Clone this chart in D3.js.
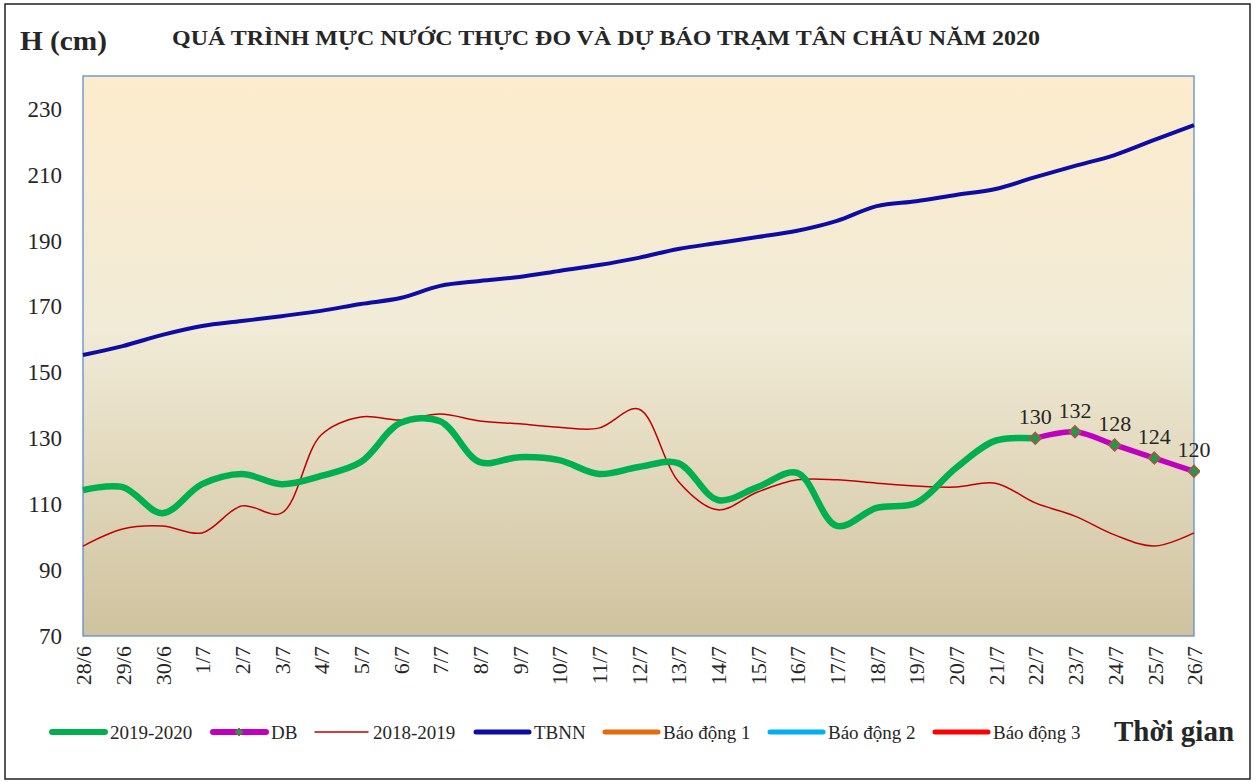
<!DOCTYPE html>
<head>
    <meta charset="utf-8">
    <title>Tan Chau</title>
    <script src="https://d3js.org/d3.v7.min.js"></script>
    <style>
        body { margin: 0; background: #fff; }
        svg text { font-family: "Liberation Serif", "Times New Roman", serif !important; fill: #262626; }
    </style>
</head>
<body>
    <div id="container"></div>
    <script>
        //------------------------DATA------------------------//
        var days = ["28/6", "29/6", "30/6", "1/7", "2/7", "3/7", "4/7", "5/7", "6/7", "7/7", "8/7", "9/7", "10/7", "11/7", "12/7",
            "13/7", "14/7", "15/7", "16/7", "17/7", "18/7", "19/7", "20/7", "21/7", "22/7", "23/7", "24/7", "25/7", "26/7"]
        var yTicks = [70, 90, 110, 130, 150, 170, 190, 210, 230]

        var h2020 = [114.3, 115.2, 107.3, 116.1, 119.2, 116.1, 118.6, 122.8, 134.7, 135.2, 122.8, 124.3, 123.4, 119.2, 121.3,
            122.5, 111.3, 115.2, 119.5, 103.4, 108.9, 110.4, 121, 129.3, 130]
        var dbDays = ["22/7", "23/7", "24/7", "25/7", "26/7"]
        var dbValues = [130, 132, 128, 124, 120]
        var h2019 = [97.3, 102.5, 103.4, 101.3, 109.5, 107.3, 131, 136.5, 135.6, 137.4, 135.3, 134.4, 133.4, 133.1, 138.9,
            117, 108.3, 113.7, 117.4, 117.4, 116.4, 115.5, 115.2, 116.4, 110.4, 106.4, 100.7, 97.3, 101.3]
        var tbnn = [155.3, 158, 161.4, 164.1, 165.6, 167.1, 168.7, 170.8, 172.6, 176.3, 177.8, 179, 180.8, 182.6, 184.8,
            187.5, 189.3, 191.1, 193, 196, 200.5, 202, 203.9, 205.7, 209.3, 212.7, 216, 220.6, 225.1]
        var alarms = [350, 400, 450]

        //------------------------SVG------------------------//
        var W = 1259, H = 782
        var margin = { top: 76, right: 65, bottom: 146, left: 83 }
        var width = 1194 - margin.left, height = 636 - margin.top
        var serif = "'Liberation Serif', 'Times New Roman', serif"

        var svg = d3.select("#container").append("svg").attr("width", W).attr("height", H)

        // outer frame
        svg.append("rect").attr("x", 5).attr("y", 4).attr("width", 1245).attr("height", 775)
            .attr("fill", "none").attr("stroke", "#222").attr("stroke-width", 1.5)

        var defs = svg.append("defs")
        var grad = defs.append("linearGradient").attr("id", "bg").attr("x1", 0).attr("y1", 0).attr("x2", 0).attr("y2", 1)
        grad.append("stop").attr("offset", "0%").attr("stop-color", "#fdeccd")
        grad.append("stop").attr("offset", "45%").attr("stop-color", "#f1ebd7")
        grad.append("stop").attr("offset", "100%").attr("stop-color", "#cfc29e")
        defs.append("clipPath").attr("id", "clip").append("rect")
            .attr("x", -6).attr("y", -6).attr("width", width + 12).attr("height", height + 12)

        var g = svg.append("g").attr("transform", "translate(" + margin.left + "," + margin.top + ")")

        var xScale = d3.scalePoint().domain(days).range([0, width])
        var yScale = d3.scaleLinear().domain([70, 240]).range([height, 0])

        g.append("rect").attr("width", width).attr("height", height).attr("fill", "url(#bg)")

        //------------------------AXES------------------------//
        var yaxis = g.append("g")
            .call(d3.axisLeft(yScale).tickValues(yTicks).tickSize(0).tickPadding(21))
        yaxis.attr("font-family", serif)
        yaxis.select(".domain").remove()
        yaxis.selectAll("text").attr("font-size", 23).attr("fill", "#262626")

        var xaxis = g.append("g").attr("transform", "translate(0," + height + ")")
            .call(d3.axisBottom(xScale).tickSize(0))
        xaxis.attr("font-family", serif)
        xaxis.select(".domain").remove()
        xaxis.selectAll("text")
            .attr("font-size", 22).attr("fill", "#262626")
            .attr("transform", "rotate(-90)")
            .attr("x", -10).attr("y", 0).attr("dy", "0.35em")
            .style("text-anchor", "end")

        // plot border
        g.append("rect").attr("width", width).attr("height", height)
            .attr("fill", "none").attr("stroke", "#5b8fd0").attr("stroke-width", 1.3)

        //------------------------LINES------------------------//
        var plot = g.append("g").attr("clip-path", "url(#clip)")
        var line = d3.line().x(d => xScale(d[0])).y(d => yScale(d[1])).curve(d3.curveCatmullRom.alpha(0.5))

        var alarmColors = ["#e46c0a", "#00b0f0", "#ff0000"]
        alarms.forEach(function (a, i) {
            plot.append("path").datum(days.map(d => [d, a])).attr("d", line)
                .attr("fill", "none").attr("stroke", alarmColors[i]).attr("stroke-width", 4)
        })

        plot.append("path").datum(days.map((d, i) => [d, tbnn[i]])).attr("d", line)
            .attr("fill", "none").attr("stroke", "#0d0da6").attr("stroke-width", 4)
        plot.append("path").datum(days.map((d, i) => [d, h2019[i]])).attr("d", line)
            .attr("fill", "none").attr("stroke", "#c00000").attr("stroke-width", 1.5)
        plot.append("path").datum(h2020.map((v, i) => [days[i], v])).attr("d", line)
            .attr("fill", "none").attr("stroke", "#00b050").attr("stroke-width", 6.5).attr("stroke-linejoin", "round")
        var dbData = dbDays.map((d, i) => [d, dbValues[i]])
        plot.append("path").datum(dbData).attr("d", line)
            .attr("fill", "none").attr("stroke", "#c000c0").attr("stroke-width", 5.5)

        var diamond = d3.symbol().type(d3.symbolDiamond2).size(90)
        plot.selectAll(".mk").data(dbData).join("path")
            .attr("transform", d => "translate(" + xScale(d[0]) + "," + yScale(d[1]) + ")")
            .attr("d", diamond).attr("fill", "#1e9a48").attr("stroke", "#b0504a").attr("stroke-width", 1.5)

        g.selectAll(".lbl").data(dbData).join("text")
            .attr("x", d => xScale(d[0])).attr("y", d => yScale(d[1]) - 14)
            .attr("text-anchor", "middle").attr("font-size", 22)
            .text(d => d[1])

        //------------------------TITLES------------------------//
        svg.append("text").attr("x", 20).attr("y", 50).attr("font-size", 27).attr("font-weight", "bold")
            .attr("textLength", 87).attr("lengthAdjust", "spacingAndGlyphs")
            .text("H (cm)")
        svg.append("text").attr("x", 172).attr("y", 45).attr("font-size", 20).attr("font-weight", "bold")
            .attr("textLength", 868).attr("lengthAdjust", "spacingAndGlyphs")
            .text("QUÁ TRÌNH MỰC NƯỚC THỰC ĐO VÀ DỰ BÁO TRẠM  TÂN CHÂU NĂM 2020")
        svg.append("text").attr("x", 1114).attr("y", 741).attr("font-size", 29).attr("font-weight", "bold")
            .text("Thời gian")

        //------------------------LEGEND------------------------//
        var legendItems = [
            { name: "2019-2020", color: "#00b050", w: 6, x: 52, marker: false },
            { name: "DB", color: "#c000c0", w: 6, x: 213, marker: true },
            { name: "2018-2019", color: "#c00000", w: 1.5, x: 315, marker: false },
            { name: "TBNN", color: "#0d0da6", w: 5, x: 476, marker: false },
            { name: "Báo động 1", color: "#e46c0a", w: 5, x: 605, marker: false },
            { name: "Báo động 2", color: "#00b0f0", w: 5, x: 770, marker: false },
            { name: "Báo động 3", color: "#ff0000", w: 5, x: 935, marker: false }
        ]
        var legend = svg.selectAll(".legend").data(legendItems).join("g")
            .attr("transform", d => "translate(" + d.x + ",732)")
        legend.append("line").attr("x1", 0).attr("x2", 53)
            .attr("stroke", d => d.color).attr("stroke-width", d => d.w).attr("stroke-linecap", "round")
        legend.filter(d => d.marker).append("path").attr("transform", "translate(26,0)")
            .attr("d", d3.symbol().type(d3.symbolDiamond2).size(40)).attr("fill", "#1e9a48").attr("stroke", "#b0504a")
        legend.append("text").attr("x", 58).attr("y", 0).attr("dy", "0.35em")
            .attr("font-size", 19).text(d => d.name)
    </script>
</body>
